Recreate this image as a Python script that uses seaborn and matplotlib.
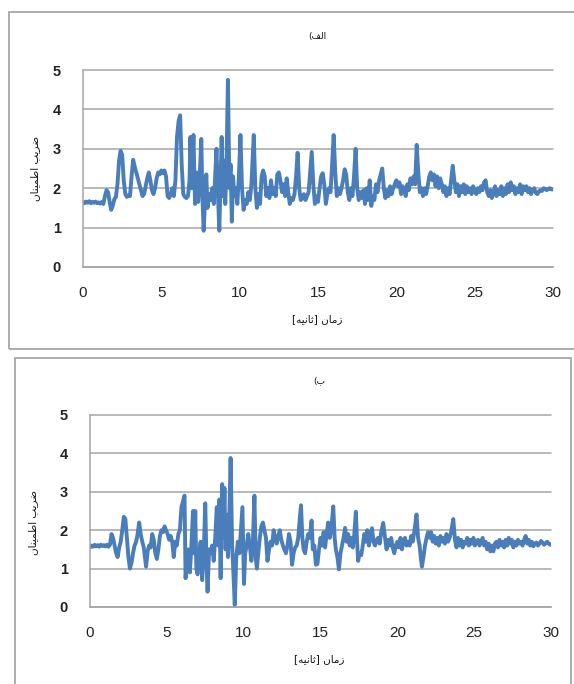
import matplotlib
matplotlib.use("Agg")
import matplotlib.pyplot as plt
import seaborn as sns
import pandas as pd
from matplotlib.patches import Rectangle

# ---------------- data ----------------
time_a = [
    0.0, 0.1, 0.2, 0.3, 0.4, 0.5, 0.6, 0.7, 0.8, 0.9, 1.0, 1.1, 1.2, 1.3, 1.4, 1.5, 1.6, 1.7, 1.8, 1.9,
    2.0, 2.1, 2.2, 2.3, 2.4, 2.5, 2.6, 2.7, 2.8, 2.9, 3.0, 3.1, 3.2, 3.3, 3.4, 3.5, 3.6, 3.7, 3.8, 3.9,
    4.0, 4.1, 4.2, 4.3, 4.4, 4.5, 4.6, 4.7, 4.8, 4.9, 5.0, 5.1, 5.2, 5.3, 5.4, 5.5, 5.6, 5.7, 5.8, 5.9,
    6.0, 6.1, 6.2, 6.3, 6.4, 6.5, 6.6, 6.7, 6.8, 6.85, 6.95, 7.05, 7.15, 7.25, 7.35, 7.45, 7.55, 7.62, 7.7, 7.78,
    7.87, 7.95, 8.05, 8.15, 8.25, 8.35, 8.45, 8.52, 8.6, 8.7, 8.78, 8.85, 8.92, 9.0, 9.08, 9.15, 9.25, 9.35, 9.42, 9.5,
    9.58, 9.65, 9.75, 9.85, 9.95, 10.05, 10.15, 10.25, 10.35, 10.45, 10.55, 10.65, 10.75, 10.9, 11.0, 11.1, 11.2, 11.3, 11.4, 11.5,
    11.6, 11.7, 11.8, 11.9, 12.0, 12.1, 12.2, 12.3, 12.4, 12.5, 12.6, 12.7, 12.8, 12.9, 13.0, 13.1, 13.2, 13.3, 13.4, 13.5,
    13.6, 13.7, 13.8, 13.9, 14.0, 14.1, 14.2, 14.3, 14.4, 14.5, 14.6, 14.7, 14.8, 14.9, 15.0, 15.1, 15.2, 15.3, 15.4, 15.5,
    15.6, 15.7, 15.8, 15.9, 16.0, 16.1, 16.2, 16.3, 16.4, 16.5, 16.6, 16.7, 16.8, 16.9, 17.0, 17.1, 17.2, 17.3, 17.4, 17.5,
    17.6, 17.7, 17.8, 17.9, 18.0, 18.1, 18.2, 18.3, 18.4, 18.5, 18.6, 18.7, 18.8, 18.9, 19.0, 19.1, 19.2, 19.3, 19.4, 19.5,
    19.6, 19.7, 19.8, 19.9, 20.0, 20.1, 20.2, 20.3, 20.4, 20.5, 20.6, 20.7, 20.8, 20.9, 21.0, 21.1, 21.2, 21.3, 21.4, 21.5,
    21.6, 21.7, 21.8, 21.9, 22.0, 22.1, 22.2, 22.3, 22.4, 22.5, 22.6, 22.7, 22.8, 22.9, 23.0, 23.1, 23.2, 23.3, 23.4, 23.5,
    23.6, 23.7, 23.8, 23.9, 24.0, 24.1, 24.2, 24.3, 24.4, 24.5, 24.6, 24.7, 24.8, 24.9, 25.0, 25.1, 25.2, 25.3, 25.4, 25.5,
    25.6, 25.7, 25.8, 25.9, 26.0, 26.1, 26.2, 26.3, 26.4, 26.5, 26.6, 26.7, 26.8, 26.9, 27.0, 27.1, 27.2, 27.3, 27.4, 27.5,
    27.6, 27.7, 27.8, 27.9, 28.0, 28.1, 28.2, 28.3, 28.4, 28.5, 28.6, 28.7, 28.8, 28.9, 29.0, 29.1, 29.2, 29.3, 29.4, 29.5,
    29.6, 29.7, 29.8, 29.9, 30.0,
]
safety_a = [
    1.65, 1.62, 1.66, 1.63, 1.67, 1.62, 1.65, 1.63, 1.66, 1.62, 1.64, 1.61, 1.65, 1.60, 1.80, 1.95, 1.90, 1.65, 1.45, 1.55,
    1.72, 1.78, 2.10, 2.70, 2.95, 2.85, 2.20, 1.85, 1.78, 1.82, 1.80, 2.30, 2.72, 2.55, 2.40, 2.25, 2.10, 1.95, 1.80, 1.85,
    2.05, 2.25, 2.40, 2.20, 1.95, 1.85, 2.00, 2.25, 2.40, 2.35, 2.45, 2.38, 2.45, 2.30, 1.80, 1.75, 1.85, 2.00, 1.80, 2.20,
    3.30, 3.70, 3.85, 2.60, 1.85, 1.78, 1.75, 1.80, 2.20, 3.30, 2.00, 3.35, 1.60, 2.40, 1.65, 2.30, 3.25, 1.80, 0.92, 1.60,
    2.35, 1.50, 1.85, 1.70, 2.00, 1.60, 2.40, 3.00, 2.00, 0.92, 2.20, 3.30, 1.80, 2.70, 1.60, 2.40, 4.75, 2.00, 2.60, 1.15,
    2.30, 1.80, 2.00, 1.60, 2.30, 3.35, 2.00, 1.45, 1.70, 1.60, 1.90, 1.70, 2.10, 3.35, 2.00, 1.50, 1.85, 1.60, 2.30, 2.45,
    2.30, 1.80, 2.00, 1.75, 2.20, 1.85, 2.00, 1.80, 2.35, 2.40, 2.20, 1.90, 2.10, 1.80, 2.25, 1.90, 1.60, 1.75, 1.70, 1.85,
    2.30, 2.90, 2.00, 1.70, 1.75, 1.85, 1.70, 1.80, 1.90, 2.40, 2.92, 2.10, 1.60, 1.80, 1.65, 2.00, 2.30, 2.38, 2.10, 1.60,
    1.85, 2.00, 1.90, 2.60, 3.35, 2.40, 1.80, 2.00, 1.85, 2.00, 2.20, 2.48, 2.35, 1.90, 1.70, 2.00, 1.80, 2.30, 3.00, 2.00,
    1.70, 1.90, 1.75, 1.95, 1.60, 2.00, 1.70, 2.20, 1.55, 1.80, 1.70, 2.10, 1.90, 2.20, 2.35, 2.50, 2.00, 1.75, 1.95, 1.80,
    2.05, 1.85, 2.00, 2.10, 2.20, 2.05, 2.15, 1.85, 2.05, 1.95, 1.80, 2.10, 1.95, 2.25, 2.10, 2.30, 2.10, 3.10, 2.40, 1.90,
    2.00, 1.80, 2.00, 1.85, 2.05, 2.30, 2.40, 2.20, 2.35, 2.05, 2.30, 2.00, 2.25, 2.10, 1.90, 2.05, 1.80, 2.00, 1.85, 2.20,
    2.57, 2.20, 1.90, 2.10, 1.80, 2.05, 1.90, 2.10, 1.85, 2.05, 1.90, 2.00, 1.85, 2.05, 1.95, 1.85, 2.00, 1.90, 2.05, 1.95,
    2.15, 2.20, 1.90, 1.80, 1.95, 1.75, 1.90, 2.05, 1.80, 1.95, 1.85, 2.05, 1.80, 2.00, 1.85, 2.10, 1.90, 2.15, 1.95, 2.05,
    1.85, 2.00, 1.90, 2.10, 1.85, 2.05, 1.95, 2.05, 1.90, 2.00, 1.85, 1.95, 2.00, 1.88, 1.85, 1.92, 1.95, 1.93, 2.00, 1.98,
    1.95, 1.98, 2.00, 1.97, 1.97,
]

time_b = [
    0.0, 0.1, 0.2, 0.3, 0.4, 0.5, 0.6, 0.7, 0.8, 0.9, 1.0, 1.1, 1.2, 1.3, 1.4, 1.5, 1.6, 1.7, 1.8, 1.9,
    2.0, 2.1, 2.2, 2.3, 2.4, 2.5, 2.6, 2.7, 2.8, 2.9, 3.0, 3.1, 3.2, 3.3, 3.4, 3.5, 3.6, 3.65, 3.75, 3.85,
    3.95, 4.05, 4.15, 4.25, 4.35, 4.45, 4.55, 4.65, 4.75, 4.85, 4.95, 5.05, 5.15, 5.25, 5.35, 5.45, 5.55, 5.65, 5.75, 5.85,
    5.95, 6.05, 6.15, 6.22, 6.3, 6.4, 6.5, 6.6, 6.7, 6.78, 6.85, 6.92, 7.0, 7.1, 7.2, 7.3, 7.4, 7.5, 7.58, 7.65,
    7.75, 7.85, 7.95, 8.05, 8.15, 8.25, 8.35, 8.42, 8.5, 8.6, 8.68, 8.75, 8.82, 8.9, 8.98, 9.08, 9.15, 9.25, 9.32, 9.42,
    9.52, 9.62, 9.72, 9.82, 9.92, 10.02, 10.1, 10.2, 10.3, 10.4, 10.5, 10.6, 10.7, 10.78, 10.86, 10.95, 11.05, 11.15, 11.25, 11.35,
    11.45, 11.55, 11.65, 11.75, 11.85, 11.95, 12.05, 12.15, 12.25, 12.35, 12.45, 12.55, 12.65, 12.75, 12.85, 12.95, 13.05, 13.15, 13.25, 13.35,
    13.45, 13.55, 13.65, 13.73, 13.82, 13.9, 14.0, 14.1, 14.2, 14.3, 14.42, 14.5, 14.6, 14.7, 14.8, 14.9, 15.0, 15.1, 15.2, 15.3,
    15.4, 15.5, 15.6, 15.7, 15.83, 15.92, 16.0, 16.1, 16.2, 16.3, 16.4, 16.5, 16.6, 16.7, 16.8, 16.9, 17.0, 17.1, 17.2, 17.3,
    17.38, 17.45, 17.55, 17.65, 17.75, 17.85, 17.95, 18.05, 18.15, 18.25, 18.35, 18.45, 18.55, 18.65, 18.75, 18.85, 18.95, 19.08, 19.2, 19.3,
    19.4, 19.5, 19.6, 19.7, 19.8, 19.9, 20.0, 20.1, 20.2, 20.3, 20.4, 20.5, 20.6, 20.7, 20.8, 20.9, 21.0, 21.1, 21.25, 21.35,
    21.45, 21.52, 21.6, 21.7, 21.8, 21.9, 22.0, 22.1, 22.2, 22.3, 22.4, 22.5, 22.6, 22.7, 22.8, 22.9, 23.0, 23.1, 23.2, 23.3,
    23.4, 23.5, 23.64, 23.75, 23.85, 23.95, 24.05, 24.15, 24.25, 24.35, 24.45, 24.55, 24.65, 24.75, 24.85, 24.95, 25.05, 25.15, 25.25, 25.35,
    25.45, 25.55, 25.65, 25.75, 25.85, 25.95, 26.05, 26.15, 26.25, 26.35, 26.45, 26.55, 26.65, 26.75, 26.85, 26.95, 27.05, 27.15, 27.25, 27.35,
    27.45, 27.55, 27.65, 27.75, 27.85, 27.95, 28.05, 28.15, 28.25, 28.35, 28.45, 28.55, 28.65, 28.75, 28.85, 28.95, 29.05, 29.15, 29.25, 29.35,
    29.45, 29.55, 29.65, 29.75, 29.85, 29.95, 30.0,
]
safety_b = [
    1.55, 1.60, 1.57, 1.62, 1.58, 1.61, 1.57, 1.62, 1.59, 1.61, 1.58, 1.62, 1.57, 1.62, 1.90, 1.80, 1.60, 1.40, 1.30, 1.55,
    1.70, 2.00, 2.35, 2.30, 1.80, 1.30, 1.00, 1.15, 1.40, 1.60, 1.70, 1.90, 2.20, 1.90, 1.70, 1.55, 1.20, 1.05, 1.45, 1.60,
    1.55, 1.90, 1.75, 1.40, 1.25, 1.50, 1.85, 2.00, 1.95, 2.10, 2.00, 1.90, 1.75, 1.85, 1.70, 1.30, 1.70, 1.60, 1.90, 2.00,
    2.60, 2.75, 2.90, 0.75, 1.20, 1.50, 0.90, 1.60, 2.50, 1.40, 2.50, 1.00, 0.85, 1.40, 1.70, 0.70, 1.40, 2.70, 1.20, 0.40,
    1.50, 1.40, 1.60, 1.20, 1.80, 2.60, 1.60, 2.80, 0.75, 3.20, 1.80, 3.10, 1.50, 2.40, 1.30, 2.60, 3.88, 1.60, 1.00, 0.05,
    1.30, 1.70, 1.40, 2.00, 2.60, 0.60, 1.40, 1.60, 1.90, 1.60, 1.20, 1.70, 2.90, 1.30, 1.00, 1.40, 1.80, 2.10, 2.20, 2.00,
    1.80, 1.20, 1.50, 1.70, 1.60, 2.00, 1.80, 1.65, 1.85, 2.00, 1.75, 1.60, 1.50, 1.40, 1.60, 1.90, 1.70, 1.10, 1.40, 1.55,
    1.60, 1.80, 2.30, 2.65, 1.80, 1.50, 1.40, 1.70, 1.90, 1.80, 2.25, 1.50, 1.60, 1.10, 1.12, 1.50, 1.80, 1.60, 1.95, 1.55,
    1.90, 2.20, 1.80, 2.00, 2.62, 1.80, 1.50, 1.30, 0.98, 1.40, 1.60, 1.80, 2.06, 1.70, 1.90, 1.60, 1.80, 1.55, 1.90, 2.48,
    1.70, 1.20, 1.40, 1.35, 1.60, 1.90, 1.70, 2.00, 1.60, 1.85, 2.05, 1.70, 1.60, 1.75, 1.80, 1.65, 1.95, 2.19, 1.80, 1.50,
    1.75, 1.60, 1.80, 1.55, 1.40, 1.60, 1.70, 1.55, 1.80, 1.50, 1.75, 1.80, 1.60, 1.70, 1.60, 1.85, 1.70, 1.95, 2.41, 1.80,
    1.60, 1.30, 1.05, 1.30, 1.60, 1.80, 1.95, 1.80, 1.95, 1.70, 1.85, 1.65, 1.80, 1.60, 1.85, 1.70, 1.80, 1.65, 1.90, 1.70,
    1.80, 1.95, 2.29, 1.75, 1.55, 1.80, 1.60, 1.75, 1.55, 1.70, 1.65, 1.80, 1.60, 1.75, 1.65, 1.80, 1.60, 1.70, 1.75, 1.60,
    1.70, 1.80, 1.60, 1.70, 1.50, 1.65, 1.45, 1.60, 1.45, 1.65, 1.70, 1.55, 1.75, 1.60, 1.70, 1.55, 1.75, 1.60, 1.80, 1.65,
    1.75, 1.55, 1.70, 1.60, 1.75, 1.65, 1.70, 1.60, 1.75, 1.85, 1.65, 1.75, 1.60, 1.70, 1.58, 1.65, 1.68, 1.60, 1.65, 1.72,
    1.68, 1.62, 1.66, 1.70, 1.65, 1.62, 1.63,
]

x_ticks = [0, 5, 10, 15, 20, 25, 30]
y_ticks = [0, 1, 2, 3, 4, 5]

# Persian labels, written in presentation forms in visual order
title_a = "(\uFED2\uFEDF\uFE8D"                     # الف)
title_b = "(\uFE8F"                                 # ب)
y_label = "\uFEE5\uFE8E\uFEE8\uFEF4\uFEE4\uFEC3\uFE8D \uFE90\uFEF3\uFEAE\uFEBF"   # ضریب اطمینان
x_label = "[\uFEEA\uFEF4\uFEE7\uFE8E\uFE9B] \uFEE5\uFE8E\uFEE3\uFEAF"             # زمان [ثانیه]

# ---------------- drawing ----------------
sns.set_style("white")
plt.rcParams["font.family"] = ["Liberation Sans", "DejaVu Sans"]

W, H = 574, 684
fig = plt.figure(figsize=(W / 100, H / 100), dpi=100)

line_color = "#4A7EBB"
grid_color = "#A6A6A6"
box_color = "#A0A0A0"

def fx(px):
    return px / W

def fy(py):
    return 1 - py / H

# panel frames
fig.patches.append(Rectangle((fx(9), fy(349)), fx(600) - fx(9), fy(12) - fy(349),
                             transform=fig.transFigure, fill=False, edgecolor=box_color, lw=1.2))
fig.patches.append(Rectangle((fx(15), fy(700)), fx(571) - fx(15), fy(358) - fy(700),
                             transform=fig.transFigure, fill=False, edgecolor=box_color, lw=1.2))

panels = [
    dict(t=time_a, v=safety_a, title=title_a, left=83, right=553, top=70, bottom=267,
         title_y=37, xlab_y=319, ylab_x=35, ylab_y=168),
    dict(t=time_b, v=safety_b, title=title_b, left=90, right=551, top=415, bottom=607,
         title_y=381, xlab_y=659, ylab_x=33, ylab_y=522),
]

for p in panels:
    ax = fig.add_axes([fx(p["left"]), fy(p["bottom"]), fx(p["right"]) - fx(p["left"]),
                       fy(p["top"]) - fy(p["bottom"])])
    df = pd.DataFrame({"t": p["t"], "v": p["v"]})
    sns.lineplot(data=df, x="t", y="v", ax=ax, color=line_color, linewidth=2.8,
                 estimator=None, sort=False)
    ax.set_xlim(0, 30)
    ax.set_ylim(0, 5)
    ax.set_xticks(x_ticks)
    ax.set_yticks(y_ticks)
    ax.set_xticklabels([str(x) for x in x_ticks], fontsize=11, color="#222222")
    ax.set_yticklabels([str(y) for y in y_ticks], fontsize=10.5, color="#222222",
                       fontweight="bold")
    ax.tick_params(axis="both", length=0)
    ax.tick_params(axis="x", pad=14)
    ax.tick_params(axis="y", pad=16)
    ax.yaxis.grid(True, color=grid_color, linewidth=1.1)
    ax.xaxis.grid(False)
    ax.set_axisbelow(True)
    for s in ["top", "right"]:
        ax.spines[s].set_visible(False)
    for s in ["left", "bottom"]:
        ax.spines[s].set_color(grid_color)
        ax.spines[s].set_linewidth(1.1)
    ax.set_xlabel("")
    ax.set_ylabel("")
    for gl in ax.get_ygridlines():
        gl.set_clip_on(False)

    fig.text(fx((p["left"] + p["right"]) / 2 - 1), fy(p["title_y"]), p["title"],
             ha="center", va="center", fontsize=6.5, family=["DejaVu Sans"], color="#111111")
    fig.text(fx((p["left"] + p["right"]) / 2 - 1), fy(p["xlab_y"]), x_label,
             ha="center", va="center", fontsize=7.5, family=["DejaVu Sans"], color="#111111")
    fig.text(fx(p["ylab_x"]), fy(p["ylab_y"]), y_label, rotation=90,
             ha="center", va="center", fontsize=7.5, family=["DejaVu Sans"], color="#111111")

fig.savefig("out.png", dpi=100, facecolor="white")
